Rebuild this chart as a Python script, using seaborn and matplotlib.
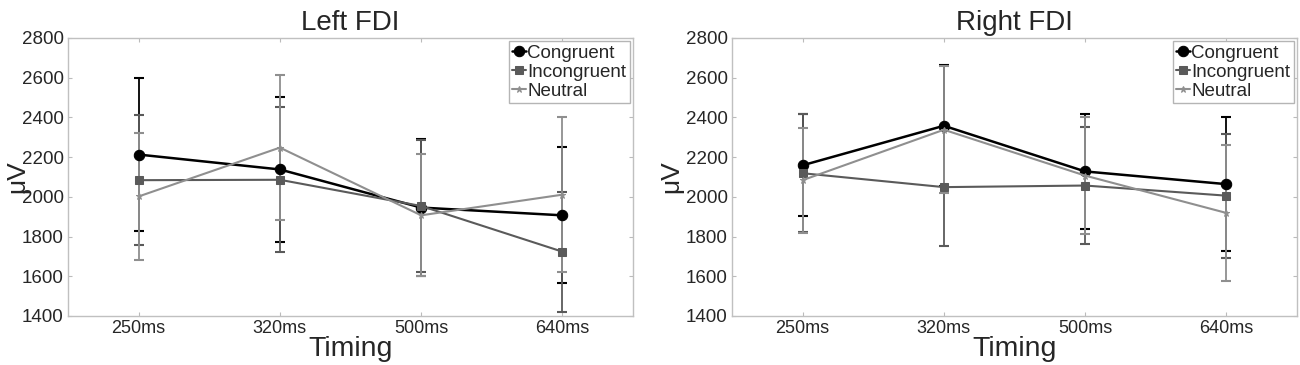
import pandas as pd
import numpy as np
from matplotlib import pyplot as plt
import seaborn as sns

timing = ["250ms", "320ms", "500ms", "640ms"]
conditions = ["Congruent", "Incongruent", "Neutral"]

left_congruent = [2213, 2138, 1946, 1907]
left_incongruent = [2084, 2086, 1954, 1724]
left_neutral = [2002, 2248, 1907, 2011]
left_congruent_err = [385, 367, 343, 342]
left_incongruent_err = [327, 365, 333, 302]
left_neutral_err = [318, 365, 308, 390]

right_congruent = [2159, 2358, 2128, 2064]
right_incongruent = [2119, 2049, 2057, 2006]
right_neutral = [2084, 2338, 2107, 1919]
right_congruent_err = [256, 305, 289, 336]
right_incongruent_err = [296, 295, 294, 312]
right_neutral_err = [264, 320, 295, 342]

yticks = [1400, 1600, 1800, 2000, 2200, 2400, 2600, 2800]

sns.set_style("white")
plt.rcParams["font.family"] = ["Liberation Sans", "DejaVu Sans"]

colors = {"Congruent": "#000000", "Incongruent": "#5a5a5a", "Neutral": "#8f8f8f"}
markers = {"Congruent": "o", "Incongruent": "s", "Neutral": "*"}
msizes = {"Congruent": 7.5, "Incongruent": 6, "Neutral": 5}
widths = {"Congruent": 1.8, "Incongruent": 1.5, "Neutral": 1.5}


def make_df(cong, incong, neut, cong_e, incong_e, neut_e):
    rows = []
    for cond, vals, errs in zip(conditions, [cong, incong, neut], [cong_e, incong_e, neut_e]):
        for i, (t, v, e) in enumerate(zip(timing, vals, errs)):
            rows.append({"Timing": t, "pos": i, "value": v, "err": e, "condition": cond})
    return pd.DataFrame(rows)


left_df = make_df(left_congruent, left_incongruent, left_neutral,
                  left_congruent_err, left_incongruent_err, left_neutral_err)
right_df = make_df(right_congruent, right_incongruent, right_neutral,
                   right_congruent_err, right_incongruent_err, right_neutral_err)

fig = plt.figure(figsize=(13, 3.65), dpi=100)
ax_l = fig.add_axes([68 / 1300, 49 / 365, 565 / 1300, 278 / 365])
ax_r = fig.add_axes([732 / 1300, 49 / 365, 565 / 1300, 278 / 365])

for ax, df, title, ylab_x in [(ax_l, left_df, "Left FDI", -0.068),
                              (ax_r, right_df, "Right FDI", -0.086)]:
    for cond in conditions:
        sub = df[df["condition"] == cond]
        ax.errorbar(sub["pos"], sub["value"], yerr=sub["err"], fmt="none",
                    ecolor=colors[cond], elinewidth=1.3, capsize=3.5, capthick=1.5, zorder=2)
        sns.lineplot(data=sub, x="pos", y="value", ax=ax, color=colors[cond],
                     marker=markers[cond], markersize=msizes[cond], markeredgecolor=colors[cond],
                     linewidth=widths[cond], label=cond, zorder=3)
    ax.set_xlim(-0.5, 3.5)
    ax.set_ylim(1400, 2800)
    ax.set_xticks(range(len(timing)))
    ax.set_xticklabels(timing, fontsize=13)
    ax.set_yticks(yticks)
    ax.set_yticklabels([str(v) for v in yticks], fontsize=13.5)
    ax.set_title(title, fontsize=20, pad=6)
    ax.set_xlabel("Timing", fontsize=20.5, labelpad=-1)
    ax.set_ylabel("μV", fontsize=19)
    ax.yaxis.set_label_coords(ylab_x, 0.5)
    ax.tick_params(direction="in", length=3, width=0.8, color="#bbbbbb",
                   top=True, right=True, bottom=True, left=True, pad=3)
    for s in ax.spines.values():
        s.set_color("#c0c0c0")
        s.set_linewidth(1.0)
    leg = ax.legend(loc="upper right", fontsize=13.5, frameon=True, fancybox=False,
                    edgecolor="#b5b5b5", framealpha=1, handlelength=0.7, handletextpad=0.1,
                    borderpad=0.2, labelspacing=0.1, borderaxespad=0.15)
    leg.get_frame().set_linewidth(1.0)

fig.savefig("out.png", dpi=100)
